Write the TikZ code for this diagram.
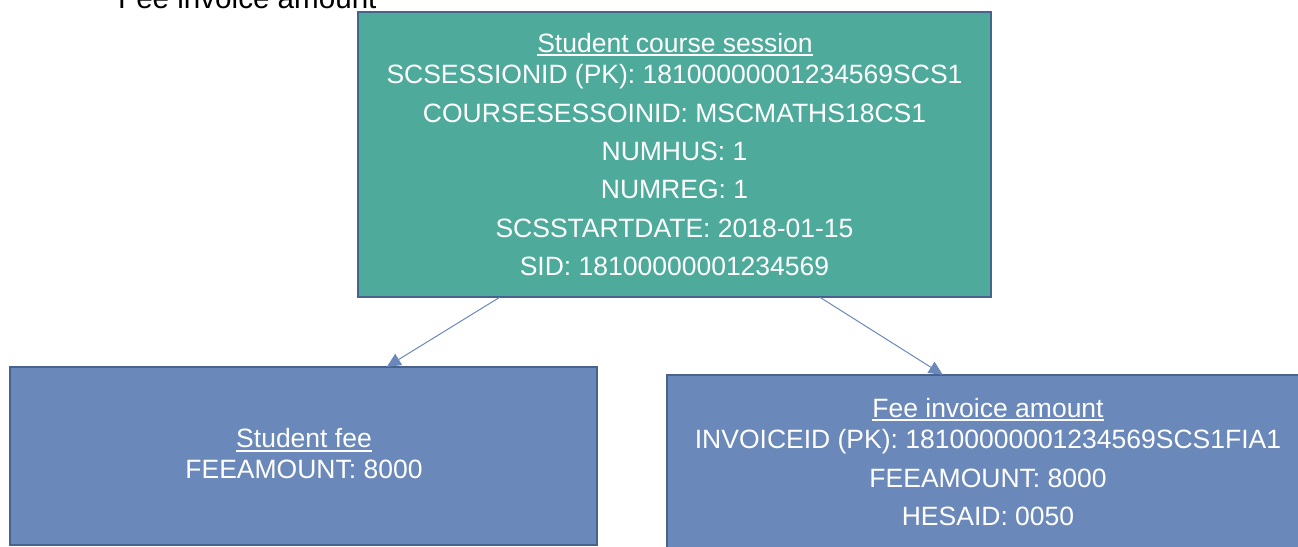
\documentclass[tikz,border=0pt]{standalone}
\usepackage{fontspec}
\setmainfont{Liberation Sans}
\usetikzlibrary{arrows.meta,calc}
\definecolor{teal1}{RGB}{78,170,155}
\definecolor{blue1}{RGB}{106,136,186}
\definecolor{edge1}{RGB}{72,98,142}
\definecolor{arr1}{RGB}{106,136,186}
\tikzset{
  box/.style={draw=edge1,line width=2.2pt,inner sep=0pt,outer sep=0pt},
  txt/.style={text=white,inner sep=0pt,anchor=base,font=\fontsize{26.5}{30}\selectfont},
  uline/.style={draw=white,line width=2pt},
  conn/.style={draw=arr1,line width=1pt,-{Triangle[length=14pt,width=13pt]}}
}
\begin{document}
\begin{tikzpicture}[x=1pt,y=-1pt]
\useasboundingbox (0,0) rectangle (1298,546);
\clip (0,0) rectangle (1298,546);
% cut-off caption at the top
\node[inner sep=0pt,anchor=base west,font=\fontsize{29.6}{32}\selectfont] (cap) at (118,9) {Fee invoice amount};
% boxes
\path[box,fill=teal1] (358,12) rectangle (991,297);
\node[inner sep=0pt,minimum width=633pt,minimum height=285pt] (top) at (674.5,154.5) {};
\path[box,fill=blue1] (10,367) rectangle (597,545);
\node[inner sep=0pt,minimum width=587pt,minimum height=178pt] (sfee) at (303.5,456) {};
\path[box,fill=blue1] (667,375) rectangle (1308,560);
\node[inner sep=0pt,minimum width=641pt,minimum height=185pt] (fia) at (987.5,467.5) {};
% top box text
\node[txt] (t0) at (675,52) {Student course session};
\draw[uline] ($(t0.south west)+(0,3)$) -- ($(t0.south east)+(0,3)$);
\node[txt] (t1) at (674.5,83) {SCSESSIONID (PK): 18100000001234569SCS1};
\node[txt] (t2) at (674.5,122) {COURSESESSOINID: MSCMATHS18CS1};
\node[txt] (t3) at (674.5,160) {NUMHUS: 1};
\node[txt] (t4) at (674.5,198) {NUMREG: 1};
\node[txt] (t5) at (674.5,237) {SCSSTARTDATE: 2018-01-15};
\node[txt] (t6) at (674.5,275) {SID: 18100000001234569};
% student fee text
\node[txt] (s0) at (304,447) {Student fee};
\draw[uline] ($(s0.south west)+(0,4)$) -- ($(s0.south east)+(0,4)$);
\node[txt] (s1) at (304,478) {FEEAMOUNT: 8000};
% fee invoice amount text
\node[txt] (f0) at (988,417) {Fee invoice amount};
\draw[uline] ($(f0.south west)+(0,3)$) -- ($(f0.south east)+(0,3)$);
\node[txt] (f1) at (988,448) {INVOICEID (PK): 18100000001234569SCS1FIA1};
\node[txt] (f2) at (988,487) {FEEAMOUNT: 8000};
\node[txt] (f3) at (988,525) {HESAID: 0050};
% connectors
\draw[conn] ($(top.south west)+(142,0)$) -- ($(sfee.north west)+(377,0)$);
\draw[conn] ($(top.south west)+(462,0)$) -- ($(fia.north west)+(276,0)$);
\end{tikzpicture}
\end{document}
